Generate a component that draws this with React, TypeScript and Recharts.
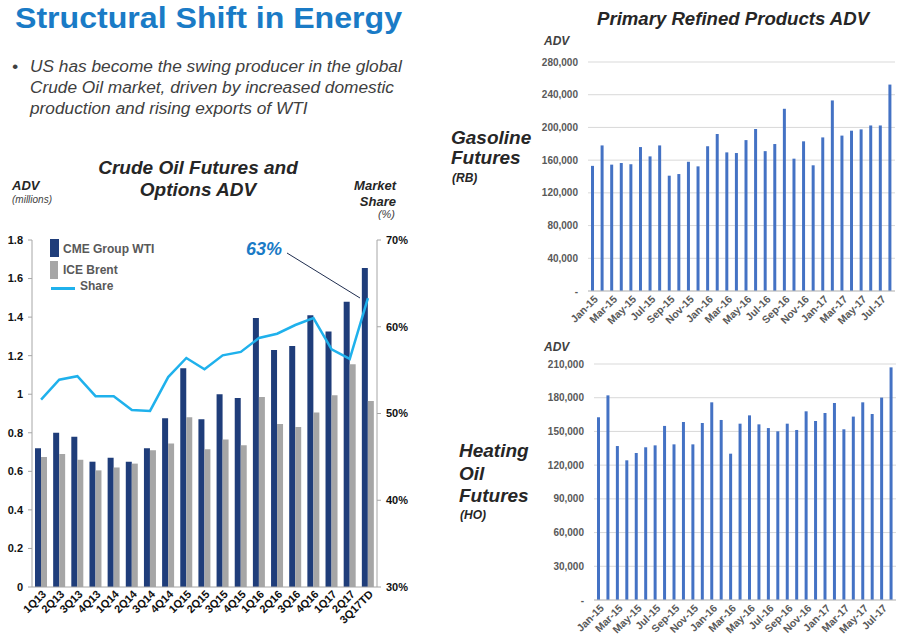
import {
  Bar,
  BarChart,
  CartesianGrid,
  ComposedChart,
  Line,
  XAxis,
  YAxis,
} from "recharts";

const quarters = [
  "1Q13", "2Q13", "3Q13", "4Q13", "1Q14", "2Q14", "3Q14", "4Q14", "1Q15", "2Q15",
  "3Q15", "4Q15", "1Q16", "2Q16", "3Q16", "4Q16", "1Q17", "2Q17", "3Q17TD",
];
const wti = [
  0.72, 0.8, 0.78, 0.65, 0.67, 0.65, 0.72, 0.875, 1.135, 0.87,
  1.0, 0.98, 1.395, 1.23, 1.25, 1.41, 1.325, 1.48, 1.655,
];
const brent = [
  0.675, 0.69, 0.66, 0.605, 0.62, 0.64, 0.71, 0.745, 0.88, 0.715,
  0.765, 0.735, 0.985, 0.845, 0.83, 0.905, 0.995, 1.155, 0.965,
];
const share = [
  51.6, 53.9, 54.3, 52.0, 52.0, 50.4, 50.3, 54.2, 56.4, 55.1,
  56.7, 57.1, 58.7, 59.2, 60.2, 61.0, 57.4, 56.3, 63.3,
];
const advTicks = [0, 0.2, 0.4, 0.6, 0.8, 1, 1.2, 1.4, 1.6, 1.8];
const shareTicks = [30, 40, 50, 60, 70];

const months = [
  "Jan-15", "Feb-15", "Mar-15", "Apr-15", "May-15", "Jun-15", "Jul-15", "Aug-15",
  "Sep-15", "Oct-15", "Nov-15", "Dec-15", "Jan-16", "Feb-16", "Mar-16", "Apr-16",
  "May-16", "Jun-16", "Jul-16", "Aug-16", "Sep-16", "Oct-16", "Nov-16", "Dec-16",
  "Jan-17", "Feb-17", "Mar-17", "Apr-17", "May-17", "Jun-17", "Jul-17", "Aug-17",
];
const gasoline = [
  153000, 178000, 154500, 156500, 155000, 176000, 164600, 178000,
  141000, 143000, 158000, 152400, 177000, 192000, 169500, 168700,
  184500, 198000, 171000, 179700, 222800, 161800, 183000, 153700,
  187800, 233000, 190000, 196000, 197600, 202400, 202400, 252400,
];
const heatingOil = [
  162600, 182100, 137000, 124300, 130800, 135900, 137600, 154900,
  138500, 158400, 138500, 157500, 175900, 160200, 130200, 156900,
  164300, 156300, 153000, 150100, 156900, 151300, 167900, 159300,
  166400, 175300, 151900, 163200, 175900, 165500, 180100, 207000,
];
const gasTicks = [0, 40000, 80000, 120000, 160000, 200000, 240000, 280000];
const hoTicks = [0, 30000, 60000, 90000, 120000, 150000, 180000, 210000];

const crudeData = quarters.map((q, i) => ({ q, wti: wti[i], brent: brent[i], share: share[i] }));
const gasData = months.map((m, i) => ({ m, v: gasoline[i] }));
const hoData = months.map((m, i) => ({ m, v: heatingOil[i] }));

const FONT = "'Liberation Sans', Arial, sans-serif";
const BLUE = "#1a7bc6";

const QuarterTick = (props: any) => {
  const { x, y, payload } = props;
  return (
    <g transform={`translate(${x + 3},${y - 3})`}>
      <text textAnchor="end" transform="rotate(-45)" dy={4} fontSize={11} fontWeight="bold" fill="#111">
        {payload.value}
      </text>
    </g>
  );
};

const MonthTick = (props: any) => {
  const { x, y, payload } = props;
  return (
    <g transform={`translate(${x + 3},${y - 2})`}>
      <text textAnchor="end" transform="rotate(-45)" dy={4} fontSize={10.5} fontWeight="bold" fill="#595959">
        {payload.value}
      </text>
    </g>
  );
};

const fmtVol = (v: number) => (v === 0 ? "-" : v.toLocaleString("en-US"));

const txt = (style: React.CSSProperties, children: React.ReactNode) => (
  <div style={{ position: "absolute", whiteSpace: "nowrap", ...style }}>{children}</div>
);

export default function App() {
  return (
    <div
      style={{
        position: "absolute",
        left: 0,
        top: 0,
        width: 899,
        height: 640,
        background: "#fff",
        fontFamily: FONT,
        overflow: "hidden",
      }}
    >
      {txt(
        { left: 15, top: 3, fontSize: 30, lineHeight: "30px", fontWeight: "bold", color: BLUE, transform: "scaleX(1.07)", transformOrigin: "left top" },
        "Structural Shift in Energy"
      )}
      {txt({ left: 12, top: 56, fontSize: 17.3, lineHeight: "21px", fontStyle: "italic", color: "#404040" }, "•")}
      {txt(
        { left: 30, top: 56, fontSize: 17.3, lineHeight: "21px", fontStyle: "italic", color: "#404040" },
        <>
          US has become the swing producer in the global
          <br />
          Crude Oil market, driven by increased domestic
          <br />
          production and rising exports of WTI
        </>
      )}

      {/* left chart headings */}
      {txt(
        { left: 98, width: 200, top: 157, fontSize: 19, lineHeight: "22px", fontWeight: "bold", fontStyle: "italic", color: "#262626", textAlign: "center" },
        <>
          Crude Oil Futures and
          <br />
          Options ADV
        </>
      )}
      {txt({ left: 12, top: 179, fontSize: 13, lineHeight: "13px", fontWeight: "bold", fontStyle: "italic", color: "#262626" }, "ADV")}
      {txt({ left: 12, top: 194, fontSize: 10, lineHeight: "11px", fontStyle: "italic", color: "#404040" }, "(millions)")}
      {txt(
        { right: 899 - 396, top: 178, fontSize: 13, lineHeight: "16px", fontWeight: "bold", fontStyle: "italic", color: "#262626", textAlign: "right" },
        <>
          Market
          <br />
          Share
        </>
      )}
      {txt({ right: 899 - 395, top: 209, fontSize: 11, lineHeight: "11px", fontStyle: "italic", color: "#404040" }, "(%)")}

      <div style={{ position: "absolute", left: 0, top: 230 }}>
        <ComposedChart
          width={420}
          height={410}
          data={crudeData}
          margin={{ top: 10, right: 0, left: 0, bottom: 0 }}
          barSize={6}
          barGap={0}
        >
          <XAxis
            dataKey="q"
            interval={0}
            height={53}
            tick={<QuarterTick />}
            tickLine={false}
            axisLine={{ stroke: "#a6a6a6" }}
          />
          <YAxis
            yAxisId="left"
            width={32}
            domain={[0, 1.8]}
            ticks={advTicks}
            tick={{ fontSize: 11, fontWeight: "bold", fill: "#111" }}
            axisLine={{ stroke: "#a6a6a6" }}
            tickLine={{ stroke: "#a6a6a6" }}
            tickSize={4}
            tickMargin={5}
          />
          <YAxis
            yAxisId="right"
            orientation="right"
            width={43}
            domain={[30, 70]}
            ticks={shareTicks}
            tickFormatter={(v) => `${v}%`}
            tick={{ fontSize: 11, fontWeight: "bold", fill: "#111" }}
            axisLine={{ stroke: "#a6a6a6" }}
            tickLine={{ stroke: "#a6a6a6" }}
            tickSize={4}
            tickMargin={5}
          />
          <Bar yAxisId="left" dataKey="wti" fill="#1f3d7a" isAnimationActive={false} />
          <Bar yAxisId="left" dataKey="brent" fill="#a6a6a6" isAnimationActive={false} />
          <Line
            yAxisId="right"
            dataKey="share"
            type="linear"
            stroke="#1fb1ec"
            strokeWidth={2.5}
            dot={false}
            isAnimationActive={false}
          />
        </ComposedChart>
      </div>

      {/* legend */}
      <div style={{ position: "absolute", left: 50, top: 239, width: 9, height: 18, background: "#1f3d7a" }} />
      <div style={{ position: "absolute", left: 50, top: 261, width: 8, height: 18, background: "#a6a6a6" }} />
      <div style={{ position: "absolute", left: 51, top: 287, width: 24, height: 3, background: "#1fb1ec" }} />
      {txt({ left: 63, top: 242, fontSize: 12, lineHeight: "14px", fontWeight: "bold", color: "#595959" }, "CME Group WTI")}
      {txt({ left: 63, top: 263, fontSize: 12, lineHeight: "14px", fontWeight: "bold", color: "#595959" }, "ICE Brent")}
      {txt({ left: 80, top: 279, fontSize: 12, lineHeight: "14px", fontWeight: "bold", color: "#595959" }, "Share")}

      {/* 63% callout */}
      {txt({ left: 246, top: 239, fontSize: 18, lineHeight: "20px", fontWeight: "bold", fontStyle: "italic", color: BLUE }, "63%")}
      <svg style={{ position: "absolute", left: 0, top: 0 }} width={899} height={640}>
        <line x1={287} y1={253} x2={360} y2={298} stroke="#1f2d4f" strokeWidth={1} />
      </svg>

      {/* right top chart */}
      {txt({ left: 597, top: 8, fontSize: 18.6, lineHeight: "22px", fontWeight: "bold", fontStyle: "italic", color: "#262626" }, "Primary Refined Products ADV")}
      {txt({ left: 544, top: 35, fontSize: 12, lineHeight: "12px", fontWeight: "bold", fontStyle: "italic", color: "#404040" }, "ADV")}
      {txt(
        { left: 451, top: 128, fontSize: 19, lineHeight: "20px", fontWeight: "bold", fontStyle: "italic", color: "#262626" },
        <>
          Gasoline
          <br />
          Futures
        </>
      )}
      {txt({ left: 452, top: 172, fontSize: 12, lineHeight: "13px", fontWeight: "bold", fontStyle: "italic", color: "#262626" }, "(RB)")}

      <div style={{ position: "absolute", left: 500, top: 40 }}>
        <BarChart
          width={399}
          height={295}
          data={gasData}
          margin={{ top: 22, right: 4, left: 0, bottom: 0 }}
          barSize={3}
        >
          <CartesianGrid vertical={false} stroke="#d9d9d9" />
          <XAxis
            dataKey="m"
            interval={1}
            height={44}
            tick={<MonthTick />}
            tickLine={false}
            axisLine={{ stroke: "#bfbfbf" }}
          />
          <YAxis
            width={88}
            domain={[0, 280000]}
            ticks={gasTicks}
            tickFormatter={fmtVol}
            tick={{ fontSize: 10, fontWeight: "bold", fill: "#595959" }}
            axisLine={false}
            tickLine={false}
            tickMargin={4}
          />
          <Bar dataKey="v" fill="#4472c4" isAnimationActive={false} />
        </BarChart>
      </div>

      {/* right bottom chart */}
      {txt({ left: 544, top: 341, fontSize: 12, lineHeight: "12px", fontWeight: "bold", fontStyle: "italic", color: "#404040" }, "ADV")}
      {txt(
        { left: 459, top: 440, fontSize: 19, lineHeight: "22.5px", fontWeight: "bold", fontStyle: "italic", color: "#262626" },
        <>
          Heating
          <br />
          Oil
          <br />
          Futures
        </>
      )}
      {txt({ left: 460, top: 509, fontSize: 12, lineHeight: "13px", fontWeight: "bold", fontStyle: "italic", color: "#262626" }, "(HO)")}

      <div style={{ position: "absolute", left: 500, top: 340 }}>
        <BarChart
          width={399}
          height={300}
          data={hoData}
          margin={{ top: 24, right: 3, left: 0, bottom: 0 }}
          barSize={3}
        >
          <CartesianGrid vertical={false} stroke="#d9d9d9" />
          <XAxis
            dataKey="m"
            interval={1}
            height={40}
            tick={<MonthTick />}
            tickLine={false}
            axisLine={{ stroke: "#bfbfbf" }}
          />
          <YAxis
            width={94}
            domain={[0, 210000]}
            ticks={hoTicks}
            tickFormatter={fmtVol}
            tick={{ fontSize: 10, fontWeight: "bold", fill: "#595959" }}
            axisLine={false}
            tickLine={false}
            tickMargin={4}
          />
          <Bar dataKey="v" fill="#4472c4" isAnimationActive={false} />
        </BarChart>
      </div>
    </div>
  );
}
